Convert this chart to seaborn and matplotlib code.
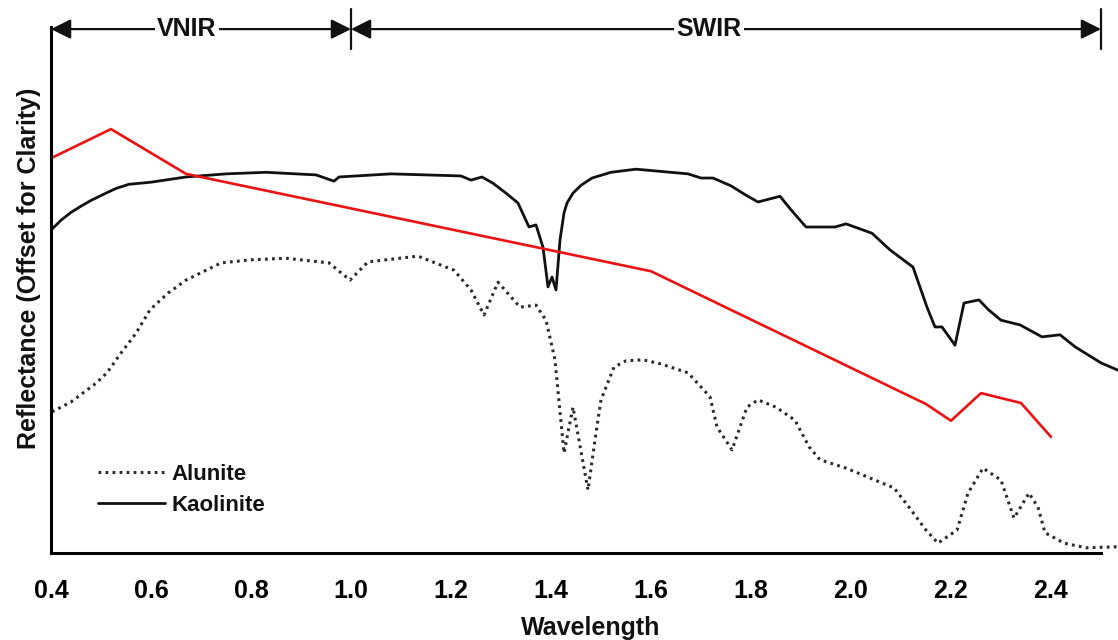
import matplotlib
matplotlib.use("Agg")
import matplotlib.pyplot as plt
import matplotlib.transforms as mtransforms
import seaborn as sns
import numpy as np
import pandas as pd

# ---------------- data ----------------
kaol_wl = [0.40, 0.42, 0.44, 0.46, 0.48, 0.51, 0.53, 0.556, 0.60, 0.67, 0.75, 0.83,
           0.93, 0.966, 0.976, 1.08, 1.22, 1.24, 1.262, 1.284, 1.31, 1.334, 1.356,
           1.37, 1.384, 1.394, 1.402, 1.41, 1.418, 1.426, 1.432, 1.444, 1.46, 1.482,
           1.52, 1.57, 1.674, 1.70, 1.724, 1.76, 1.79, 1.814, 1.858, 1.88,
           1.91, 1.968, 1.99, 2.042, 2.078, 2.124, 2.152, 2.168, 2.182, 2.208,
           2.226, 2.256, 2.275, 2.30, 2.338, 2.382, 2.418, 2.448, 2.50, 2.534]
kaol_refl = [61.6, 63.5, 65.0, 66.2, 67.3, 68.7, 69.6, 70.4, 70.8, 71.8, 72.4, 72.7,
             72.2, 71.0, 71.8, 72.4, 72.0, 71.2, 71.8, 70.6, 68.7, 66.8, 62.2,
             62.6, 58.3, 50.7, 52.6, 50.1, 59.7, 64.9, 66.8, 68.7, 70.2, 71.6,
             72.7, 73.3, 72.4, 71.6, 71.6, 70.1, 68.3, 67.0, 68.1, 65.5,
             62.2, 62.2, 62.8, 61.0, 57.8, 54.5, 46.8, 43.0, 43.0, 39.5,
             47.6, 48.2, 46.3, 44.3, 43.4, 41.1, 41.5, 39.2, 36.1, 34.7]

alun_wl = [0.402, 0.44, 0.49, 0.512, 0.54, 0.57, 0.598, 0.634, 0.67, 0.74, 0.80,
           0.87, 0.956, 0.998, 1.034, 1.134, 1.206, 1.24, 1.266, 1.294, 1.338, 1.37,
           1.39, 1.408, 1.426, 1.444, 1.474, 1.488, 1.50, 1.526, 1.55, 1.584, 1.62,
           1.674, 1.718, 1.732, 1.762, 1.792, 1.814, 1.85, 1.888, 1.916, 1.938,
           1.99, 2.086, 2.116, 2.15, 2.174, 2.212, 2.234, 2.264, 2.30, 2.326,
           2.356, 2.374, 2.388, 2.426, 2.47, 2.534]
alun_refl = [26.7, 28.6, 32.2, 34.2, 38.0, 41.8, 46.3, 49.5, 52.0, 55.3, 55.9,
             56.2, 55.3, 52.0, 55.5, 56.6, 53.9, 50.1, 45.3, 51.6, 46.8, 47.2,
             44.3, 36.7, 18.8, 27.6, 11.7, 21.3, 29.0, 35.3, 36.5, 36.7, 35.9,
             34.2, 29.6, 23.8, 19.4, 27.6, 29.0, 27.6, 25.1, 20.0, 17.5,
             15.9, 12.1, 8.4, 4.0, 1.5, 4.0, 11.1, 15.9, 13.6, 6.3,
             11.1, 8.4, 3.5, 1.5, 0.6, 0.8]

red_wl = [0.40, 0.52, 0.67, 1.60, 2.15, 2.20, 2.26, 2.34, 2.40]
red_refl = [75.4, 81.0, 72.4, 53.7, 28.2, 25.0, 30.3, 28.4, 21.9]

x_ticks = [0.4, 0.6, 0.8, 1.0, 1.2, 1.4, 1.6, 1.8, 2.0, 2.2, 2.4]
region_edges = [0.4, 1.0, 2.5]
region_labels = ["VNIR", "SWIR"]
region_label_x = [0.672, 1.716]

# ---------------- styling ----------------
sns.set_style("white")
plt.rcParams["font.family"] = ["Liberation Sans", "DejaVu Sans"]
plt.rcParams["font.weight"] = "bold"

fig = plt.figure(figsize=(11.18, 6.4), dpi=100)
ax = fig.add_axes([51 / 1118, 87 / 640, 1067 / 1118, 526 / 640])

kaol = pd.DataFrame({"Wavelength": kaol_wl, "Reflectance": kaol_refl})
alun = pd.DataFrame({"Wavelength": alun_wl, "Reflectance": alun_refl})
red = pd.DataFrame({"Wavelength": red_wl, "Reflectance": red_refl})

sns.lineplot(data=alun, x="Wavelength", y="Reflectance", ax=ax, color="#2a2a2a",
             linewidth=2.2, linestyle=(0, (0.9, 1.4)), label="Alunite", sort=False)
sns.lineplot(data=kaol, x="Wavelength", y="Reflectance", ax=ax, color="#111111",
             linewidth=2.0, label="Kaolinite", sort=False)
sns.lineplot(data=red, x="Wavelength", y="Reflectance", ax=ax, color="#ee1111",
             linewidth=1.9, sort=False, legend=False)

ax.set_xlim(0.4, 2.534)
ax.set_ylim(-0.4, 100.6)
ax.set_xticks(x_ticks)
ax.set_xticklabels([f"{t:.1f}" for t in x_ticks])
ax.set_yticks([])

for s in ["top", "right"]:
    ax.spines[s].set_visible(False)
for s in ["left", "bottom"]:
    ax.spines[s].set_color("black")
    ax.spines[s].set_linewidth(2.2)
ax.spines["bottom"].set_bounds(0.4, 2.5)

ax.tick_params(axis="x", direction="out", length=5, width=2, labelsize=18,
               pad=14, colors="black")
for lab in ax.get_xticklabels():
    lab.set_fontweight("bold")

ax.set_xlabel("Wavelength", fontsize=18, fontweight="bold", color="#111111")
ax.xaxis.set_label_coords(0.506, -0.12)
ax.set_ylabel("Reflectance (Offset for Clarity)", fontsize=18, fontweight="bold",
              color="#111111")
ax.yaxis.set_label_coords(-0.009, 0.542)

# legend
leg = ax.legend(loc="upper left", bbox_to_anchor=(0.044, 0.169), frameon=False,
                fontsize=16, handlelength=3.0, handletextpad=0.3,
                labelspacing=0.43, borderpad=0, borderaxespad=0)
for t in leg.get_texts():
    t.set_fontweight("bold")
    t.set_color("#111111")

# region annotations at the top
trans = mtransforms.blended_transform_factory(ax.transData, ax.transAxes)
arrow_y = 0.996
for i, lab in enumerate(region_labels):
    ax.annotate("", xy=(region_edges[i], arrow_y), xytext=(region_edges[i + 1], arrow_y),
                xycoords=trans, textcoords=trans,
                arrowprops=dict(arrowstyle="<|-|>,head_length=0.8,head_width=0.4",
                                mutation_scale=15, color="#111111", lw=1.6,
                                shrinkA=0, shrinkB=0),
                annotation_clip=False)
    ax.text(region_label_x[i], arrow_y, lab, transform=trans, ha="center", va="center",
            fontsize=18, fontweight="bold", color="#111111",
            bbox=dict(facecolor="white", edgecolor="none", pad=1.5), clip_on=False,
            zorder=5)
for xe in region_edges[1:]:
    ax.plot([xe, xe], [0.958, 1.034], transform=trans, color="#111111", lw=1.6,
            clip_on=False)

fig.savefig("out.png", dpi=100)
